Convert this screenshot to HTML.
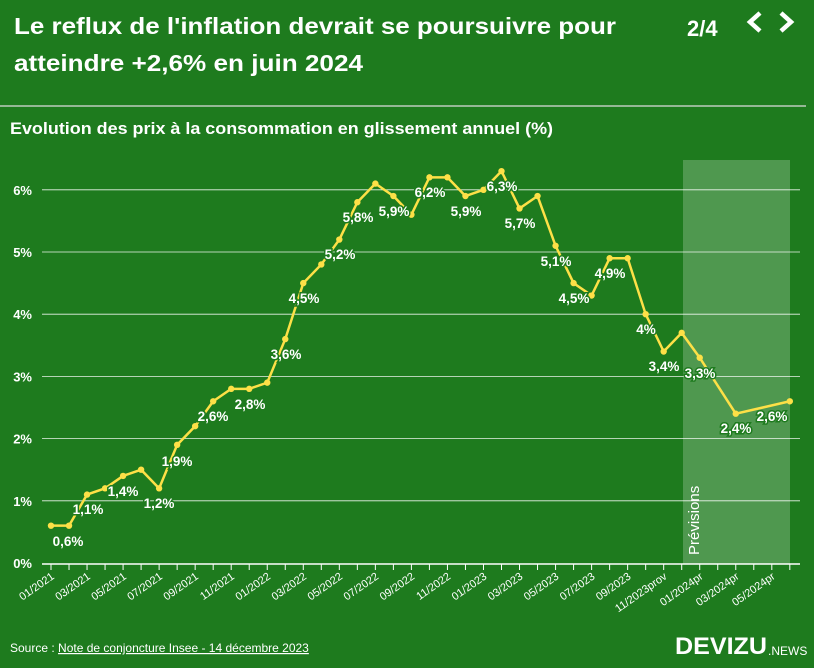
<!DOCTYPE html>
<html><head><meta charset="utf-8"><style>
body{margin:0;width:814px;height:668px;background:#1e7b1e;overflow:hidden;font-family:"Liberation Sans",sans-serif;color:#fff}
</style></head><body>
<svg id="s" width="814" height="668" xmlns="http://www.w3.org/2000/svg" style="position:absolute;left:0;top:0;font-family:'Liberation Sans',sans-serif">
<rect width="814" height="668" fill="#1e7b1e"/>
<text x="14" y="34" font-size="23" font-weight="bold" fill="#fff" textLength="602" lengthAdjust="spacingAndGlyphs">Le reflux de l'inflation devrait se poursuivre pour</text>
<text x="14" y="71" font-size="23" font-weight="bold" fill="#fff" textLength="349" lengthAdjust="spacingAndGlyphs">atteindre +2,6% en juin 2024</text>
<text x="687" y="36" font-size="22" font-weight="bold" fill="#fff">2/4</text>
<path d="M760 13 L750 22 L760 31" stroke="#fff" stroke-width="4.5" fill="none"/>
<path d="M781 13 L791 22 L781 31" stroke="#fff" stroke-width="4.5" fill="none"/>
<line x1="0" y1="106" x2="806" y2="106" stroke="#ddd" stroke-width="1.2"/>
<text x="10" y="134" font-size="17" font-weight="bold" fill="#fff" textLength="543" lengthAdjust="spacingAndGlyphs">Evolution des prix à la consommation en glissement annuel (%)</text>
<rect x="683" y="160" width="107" height="404" fill="#fff" fill-opacity="0.22"/>
<text transform="translate(699,555) rotate(-90)" font-size="15" fill="#fff">Prévisions</text>
<g id="g"></g>
<text x="10" y="652" font-size="12" fill="#fff">Source : <tspan text-decoration="underline">Note de conjoncture Insee - 14 décembre 2023</tspan></text>
<text x="675" y="654" font-size="24" font-weight="bold" fill="#fff" textLength="92" lengthAdjust="spacingAndGlyphs">DEVIZU</text>
<text x="768" y="655" font-size="12" fill="#fff">.NEWS</text>
</svg>
<script>
var g=document.getElementById('g'),h='';
function Y(v){return 563-v*62.2}function X(i){return 51+i*18.02}
for(var v=0;v<=6;v++){var y=Y(v);if(v>0)h+='<line x1="42" y1="'+y+'" x2="800" y2="'+y+'" stroke="#fff" stroke-width="0.8" opacity="0.9"/>';h+='<text x="32" y="'+(y+5)+'" font-size="13" font-weight="bold" fill="#fff" text-anchor="end">'+v+'%</text>';}
h+='<line x1="42" y1="564" x2="800" y2="564" stroke="#fff" stroke-width="1.5"/>';
for(var i=0;i<42;i++){h+='<line x1="'+X(i)+'" y1="564" x2="'+X(i)+'" y2="570" stroke="#fff"/>';}
var L=['01/2021','03/2021','05/2021','07/2021','09/2021','11/2021','01/2022','03/2022','05/2022','07/2022','09/2022','11/2022','01/2023','03/2023','05/2023','07/2023','09/2023','11/2023prov','01/2024pr','03/2024pr','05/2024pr'];
for(var k=0;k<L.length;k++){var x=X(2*k)+4;h+='<text transform="translate('+x+',578) rotate(-35)" font-size="11" fill="#fff" text-anchor="end">'+L[k]+'</text>';}
var d=[[0,.6],[1,.6],[2,1.1],[3,1.2],[4,1.4],[5,1.5],[6,1.2],[7,1.9],[8,2.2],[9,2.6],[10,2.8],[11,2.8],[12,2.9],[13,3.6],[14,4.5],[15,4.8],[16,5.2],[17,5.8],[18,6.1],[19,5.9],[20,5.6],[21,6.2],[22,6.2],[23,5.9],[24,6.0],[25,6.3],[26,5.7],[27,5.9],[28,5.1],[29,4.5],[30,4.3],[31,4.9],[32,4.9],[33,4.0],[34,3.4],[35,3.7],[36,3.3],[38,2.4],[41,2.6]];
var p=d.map(function(a){return X(a[0])+','+Y(a[1])}).join(' ');
h+='<polyline points="'+p+'" fill="none" stroke="#fde047" stroke-width="2.5"/>';
d.forEach(function(a){h+='<circle cx="'+X(a[0])+'" cy="'+Y(a[1])+'" r="3.2" fill="#fde047"/>';});
var t=[[68,546,'0,6%'],[88,514,'1,1%'],[123,496,'1,4%'],[159,508,'1,2%'],[177,466,'1,9%'],[213,421,'2,6%'],[250,409,'2,8%'],[286,359,'3,6%'],[304,303,'4,5%'],[340,259,'5,2%'],[358,222,'5,8%'],[394,216,'5,9%'],[430,197,'6,2%'],[466,216,'5,9%'],[502,191,'6,3%'],[520,228,'5,7%'],[556,266,'5,1%'],[574,303,'4,5%'],[610,278,'4,9%'],[646,334,'4%'],[664,371,'3,4%'],[700,378,'3,3%'],[736,433,'2,4%'],[772,421,'2,6%']];
t.forEach(function(a){h+='<text x="'+a[0]+'" y="'+a[1]+'" font-size="13.5" font-weight="bold" fill="#fff" stroke="#1e7b1e" stroke-width="3" paint-order="stroke" text-anchor="middle">'+a[2]+'</text>';});
g.innerHTML=h;
</script>
</body></html>
